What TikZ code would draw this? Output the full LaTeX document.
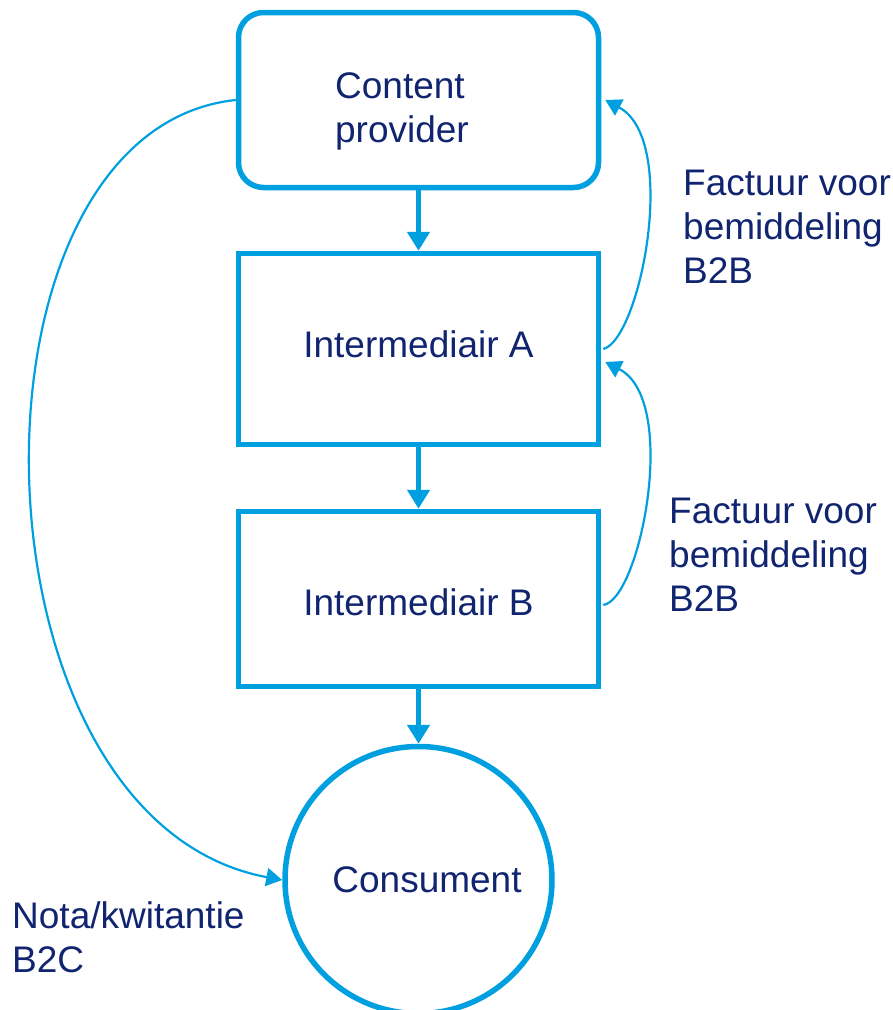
\documentclass[tikz,border=0pt]{standalone}
\usepackage{fontspec}
\setmainfont{Liberation Sans}
\usetikzlibrary{arrows.meta}
\definecolor{lineblue}{RGB}{0,160,224}
\definecolor{textblue}{RGB}{16,36,112}
\begin{document}
\begin{tikzpicture}[x=1pt,y=-1pt,
  box/.style={draw=lineblue,line width=5.5pt,minimum width=360pt,inner sep=0pt},
  txt/.style={text=textblue,font=\fontsize{37}{44}\selectfont,inner sep=0pt},
  lbl/.style={txt,align=left,anchor=west},
  flow/.style={draw=lineblue,line width=5pt,-{Triangle[width=22pt,length=19pt]}},
  bill/.style={draw=lineblue,line width=2.2pt,-{Triangle[width=18pt,length=16pt]}}]
\useasboundingbox (0,0) rectangle (893,1010);
\node[box,rounded corners=25pt,minimum height=175pt] (cp) at (418.5,100) {};
\node[txt,align=left] (cpt) at (402,111) {Content\\provider};
\node[box,minimum height=191pt] (ia) at (418.5,349) {};
\node[txt] (iat) at (418.5,344) {Intermediair A};
\node[box,minimum height=175pt] (ib) at (418.5,599) {};
\node[txt] (ibt) at (418.5,602) {Intermediair B};
\node[circle,draw=lineblue,line width=5.5pt,minimum size=267pt,inner sep=0pt] (con) at (418.5,880) {};
\node[txt] (cont) at (427,880) {Consument};
\draw[flow] (cp.south) -- (ia.north);
\draw[flow] (ia.south) -- (ib.north);
\draw[flow] (ib.south) -- (con.north);
\draw[bill] ([xshift=2pt]ia.east) .. controls (640,340) and (680,140) .. ([xshift=4pt]cp.east);
\draw[bill] ([xshift=2pt,yshift=-6pt]ib.east) .. controls (640,600) and (680,400) .. ([xshift=4pt,yshift=-13pt]ia.east);
\draw[bill] (cp.west) .. controls (-50,130) and (-40,820) .. (con.west);
\node[lbl] (l1) at (683,227) {Factuur voor\\bemiddeling\\B2B};
\node[lbl] (l2) at (669,555) {Factuur voor\\bemiddeling\\B2B};
\node[lbl] (l3) at (12,937) {Nota/kwitantie\\B2C};
\end{tikzpicture}
\end{document}
